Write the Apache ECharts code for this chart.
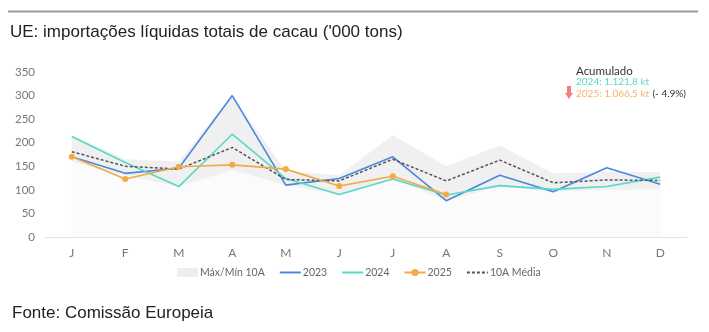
<!DOCTYPE html>
<html>
<head>
<meta charset="utf-8">
<script src="https://cdn.jsdelivr.net/npm/echarts@6/dist/echarts.min.js"></script>
<style>
  html, body { margin: 0; padding: 0; background: #fff; }
  #chart { width: 709px; height: 332px; }
</style>
</head>
<body>
<div id="chart"></div>
<script>
// Monthly net cocoa imports into the EU, thousand tonnes
const months = ['J', 'F', 'M', 'A', 'M', 'J', 'J', 'A', 'S', 'O', 'N', 'D'];
const imports2023 = [170, 135, 146, 300, 110, 124, 170, 77, 131, 96, 147, 112];
const imports2024 = [213, 158, 107, 218, 124, 90, 123, 89, 109, 101, 107, 127];
const imports2025 = [170, 123, 149, 153, 144, 108, 129, 90];
const avg10y = [181, 150, 144, 190, 122, 119, 165, 119, 163, 115, 121, 120];
const max10y = [216, 165, 160, 300, 140, 131, 216, 150, 194, 135, 138, 138];
const min10y = [160, 130, 107, 142, 110, 90, 123, 77, 107, 96, 100, 100];
const yTicks = [0, 50, 100, 150, 200, 250, 300, 350];

const bandSpread = max10y.map((v, i) => v - min10y[i]);

const FONT = 'Lato';
const chart = echarts.init(document.getElementById('chart'));

// line-only legend entries (no marker dot)
const plainLine = name => ({ name: name, itemStyle: { opacity: 0 } });

chart.setOption({
  animation: false,
  backgroundColor: '#ffffff',
  title: [
    {
      text: "UE: importações líquidas totais de cacau ('000 tons)",
      left: 10, top: 24, padding: 0,
      textStyle: { fontFamily: 'Liberation Sans', fontSize: 17, fontWeight: 'normal', color: '#222' }
    },
    {
      text: 'Fonte: Comissão Europeia',
      left: 12, top: 305, padding: 0,
      textStyle: { fontFamily: 'Liberation Sans', fontSize: 17, fontWeight: 'normal', color: '#222' }
    }
  ],
  grid: { left: 45, right: 22, top: 72, bottom: 95 },
  legend: {
    top: 267,
    left: 177,
    padding: 0,
    itemWidth: 21,
    itemHeight: 9,
    itemGap: 14,
    textStyle: { fontFamily: FONT, fontSize: 10.5, color: '#666', padding: [0, 0, 0, -3] },
    data: [
      { name: 'Máx/Mín 10A', icon: 'rect', itemStyle: { color: '#eeeeee' } },
      plainLine('2023'),
      plainLine('2024'),
      { name: '2025' },
      plainLine('10A Média')
    ]
  },
  xAxis: {
    type: 'category',
    data: months,
    boundaryGap: true,
    axisLine: { lineStyle: { color: '#e3e3e3', width: 1 } },
    axisTick: { show: false },
    axisLabel: { fontFamily: FONT, fontSize: 12, color: '#777', margin: 10 }
  },
  yAxis: {
    type: 'value',
    min: yTicks[0],
    max: yTicks[yTicks.length - 1],
    interval: 50,
    splitLine: { show: false },
    axisLine: { show: false },
    axisTick: { show: false },
    axisLabel: { fontFamily: FONT, fontSize: 11.5, color: '#777', margin: 10 }
  },
  graphic: [
    { type: 'line', shape: { x1: 8, y1: 11.5, x2: 698, y2: 11.5 }, style: { stroke: '#9a9a9a', lineWidth: 2 } },
    {
      type: 'text', left: 576, top: 65,
      style: { text: 'Acumulado', font: '11.5px Lato', fill: '#333' }
    },
    {
      type: 'text', left: 576, top: 77,
      style: { text: '2024: 1.121,8 kt', font: '10px Lato', fill: '#5cd8cb' }
    },
    {
      type: 'text', left: 576, top: 88,
      style: {
        text: '{o|2025: 1.066,5 kt} {d|(- 4.9%)}',
        rich: {
          o: { font: '10px Lato', fill: '#f4b36a' },
          d: { font: '10px Lato', fill: '#333' }
        }
      }
    },
    {
      type: 'group', left: 565, top: 86,
      children: [
        { type: 'rect', shape: { x: 2, y: 0, width: 4, height: 8 }, style: { fill: '#f27f7f' } },
        { type: 'polygon', shape: { points: [[0, 7], [8, 7], [4, 13]] }, style: { fill: '#f27f7f' } }
      ]
    }
  ],
  series: [
    {
      name: 'band-base',
      type: 'line',
      stack: 'band',
      data: min10y,
      symbol: 'none',
      lineStyle: { width: 0 },
      areaStyle: { color: '#fbfbfb', opacity: 1 },
      silent: true,
      z: 1
    },
    {
      name: 'Máx/Mín 10A',
      type: 'line',
      stack: 'band',
      data: bandSpread,
      symbol: 'none',
      lineStyle: { width: 0 },
      itemStyle: { color: '#eeeeee' },
      areaStyle: { color: '#f0f0f0', opacity: 1 },
      z: 1
    },
    {
      name: '2023',
      type: 'line',
      data: imports2023,
      symbol: 'none',
      itemStyle: { color: '#4a88dc' },
      lineStyle: { color: '#4a88dc', width: 1.6 },
      z: 3
    },
    {
      name: '2024',
      type: 'line',
      data: imports2024,
      symbol: 'none',
      itemStyle: { color: '#55d9c9' },
      lineStyle: { color: '#55d9c9', width: 1.6 },
      z: 3
    },
    {
      name: '2025',
      type: 'line',
      data: imports2025,
      symbol: 'circle',
      symbolSize: 6,
      itemStyle: { color: '#f2aa45' },
      lineStyle: { color: '#f2aa45', width: 1.6 },
      z: 4
    },
    {
      name: '10A Média',
      type: 'line',
      data: avg10y,
      symbol: 'none',
      itemStyle: { color: '#555555' },
      lineStyle: { color: '#555555', width: 1.5, type: [3, 2] },
      z: 3
    }
  ]
});
</script>
</body>
</html>
